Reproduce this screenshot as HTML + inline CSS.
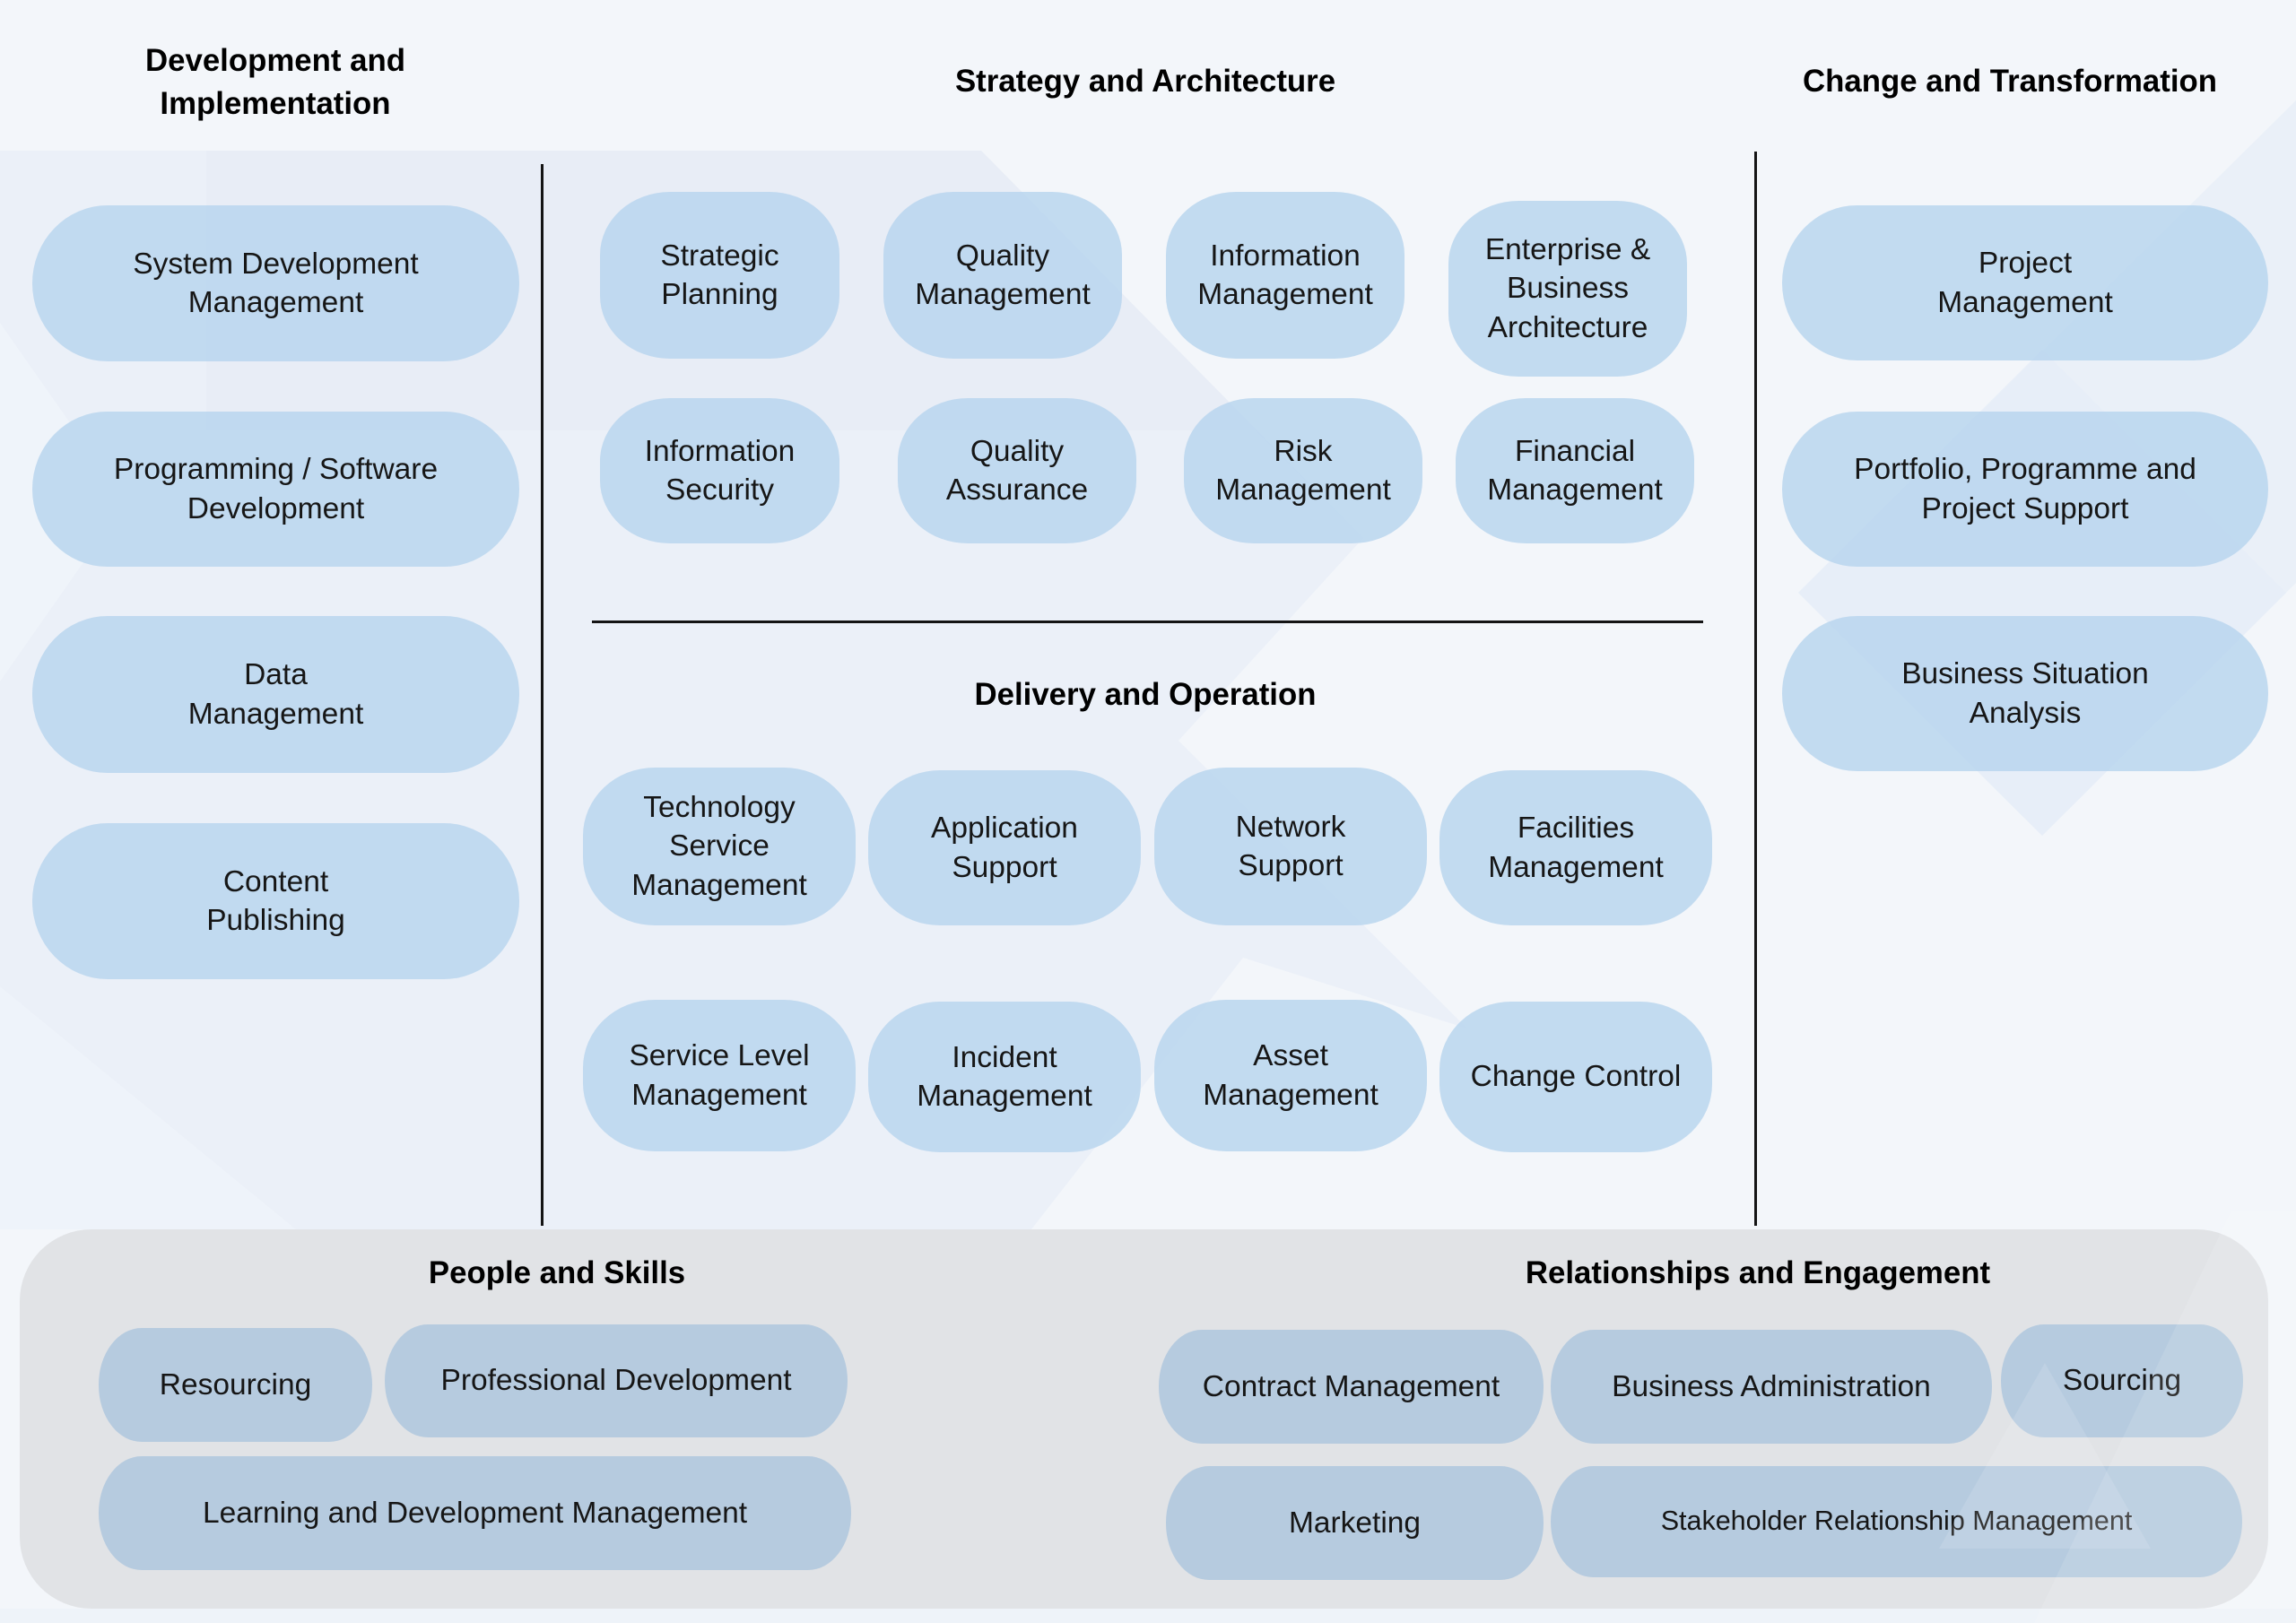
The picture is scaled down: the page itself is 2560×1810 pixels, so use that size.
<!DOCTYPE html>
<html><head><meta charset="utf-8">
<style>
html,body{margin:0;padding:0;}
body{width:2560px;height:1810px;position:relative;overflow:hidden;background:#f3f6fa;font-family:"Liberation Sans",Arial,sans-serif;}
.bg{position:absolute;left:0;top:0;width:2560px;height:1810px;}
.p{position:absolute;box-sizing:border-box;display:flex;align-items:center;justify-content:center;text-align:center;font-size:33.5px;line-height:43.5px;color:#161616;background:rgba(183,212,238,0.82);}
.w{border-radius:84px/87px;}
.s{border-radius:78px/70px;}
.d{border-radius:80px/76px;}
.b{border-radius:48px/63px;background:rgba(178,201,222,0.92);}
.h{position:absolute;width:900px;text-align:center;font-weight:bold;font-size:34.8px;line-height:48px;color:#000;}
.ln{position:absolute;background:#141414;}
.panel{position:absolute;left:22px;top:1371px;width:2507px;height:423px;border-radius:80px;background:#e1e3e6;}
.ov{position:absolute;left:0;top:0;width:2560px;height:1810px;pointer-events:none;}
</style></head>
<body>
<svg class="bg" width="2560" height="1810" viewBox="0 0 2560 1810">
  <rect x="0" y="0" width="2560" height="1810" fill="#f3f6fa"/>
  <polygon points="0,168 1094,168 1520,600 1314,826 1636,1147 1386,1068 1150,1371 0,1371" fill="#ebf0f8"/>
  <polygon points="230,168 1094,168 1520,600 1400,480 230,480" fill="#e5ebf4" opacity="0.55"/>
  <polygon points="0,360 140,560 0,760" fill="#f2f6fb" opacity="0.6"/>
  <polygon points="0,1100 330,1371 0,1371" fill="#f1f5fb" opacity="0.5"/>
  <polygon points="2560,112 2005,661 2277,932 2560,650" fill="#eaf0f8"/>
  <polygon points="2005,661 2277,390 2549,661 2277,932" fill="#e6eef8" opacity="0.8"/>
  <rect x="0" y="1794" width="2560" height="16" fill="#eef3f9"/>
</svg>

<div class="panel"></div>

<!-- Headings -->
<div class="h" style="left:-143px;top:44px;">Development and<br>Implementation</div>
<div class="h" style="left:827px;top:67px;">Strategy and Architecture</div>
<div class="h" style="left:1791px;top:67px;">Change and Transformation</div>
<div class="h" style="left:827px;top:751px;">Delivery and Operation</div>
<div class="h" style="left:171px;top:1396px;">People and Skills</div>
<div class="h" style="left:1510px;top:1396px;">Relationships and Engagement</div>

<!-- Lines -->
<div class="ln" style="left:603px;top:183px;width:2.5px;height:1184px;"></div>
<div class="ln" style="left:1956px;top:169px;width:2.5px;height:1198px;"></div>
<div class="ln" style="left:660px;top:692px;width:1239px;height:2.5px;"></div>

<!-- Left column -->
<div class="p w" style="left:36px;top:229px;width:543px;height:174px;">System Development<br>Management</div>
<div class="p w" style="left:36px;top:459px;width:543px;height:173px;">Programming / Software<br>Development</div>
<div class="p w" style="left:36px;top:687px;width:543px;height:175px;">Data<br>Management</div>
<div class="p w" style="left:36px;top:918px;width:543px;height:174px;">Content<br>Publishing</div>

<!-- Right column -->
<div class="p w" style="left:1987px;top:229px;width:542px;height:173px;">Project<br>Management</div>
<div class="p w" style="left:1987px;top:459px;width:542px;height:173px;">Portfolio, Programme and<br>Project Support</div>
<div class="p w" style="left:1987px;top:687px;width:542px;height:173px;">Business Situation<br>Analysis</div>

<!-- Strategy -->
<div class="p s" style="left:669px;top:214px;width:267px;height:186px;">Strategic<br>Planning</div>
<div class="p s" style="left:985px;top:214px;width:266px;height:186px;">Quality<br>Management</div>
<div class="p s" style="left:1300px;top:214px;width:266px;height:186px;">Information<br>Management</div>
<div class="p s" style="left:1615px;top:224px;width:266px;height:196px;">Enterprise &amp;<br>Business<br>Architecture</div>
<div class="p s" style="left:669px;top:444px;width:267px;height:162px;">Information<br>Security</div>
<div class="p s" style="left:1001px;top:444px;width:266px;height:162px;">Quality<br>Assurance</div>
<div class="p s" style="left:1320px;top:444px;width:266px;height:162px;">Risk<br>Management</div>
<div class="p s" style="left:1623px;top:444px;width:266px;height:162px;">Financial<br>Management</div>

<!-- Delivery -->
<div class="p d" style="left:650px;top:856px;width:304px;height:176px;">Technology<br>Service<br>Management</div>
<div class="p d" style="left:968px;top:859px;width:304px;height:173px;">Application<br>Support</div>
<div class="p d" style="left:1287px;top:856px;width:304px;height:176px;">Network<br>Support</div>
<div class="p d" style="left:1605px;top:859px;width:304px;height:173px;">Facilities<br>Management</div>
<div class="p d" style="left:650px;top:1115px;width:304px;height:169px;">Service Level<br>Management</div>
<div class="p d" style="left:968px;top:1117px;width:304px;height:168px;">Incident<br>Management</div>
<div class="p d" style="left:1287px;top:1115px;width:304px;height:169px;">Asset<br>Management</div>
<div class="p d" style="left:1605px;top:1117px;width:304px;height:168px;">Change Control</div>

<!-- Bottom left -->
<div class="p b" style="left:110px;top:1481px;width:305px;height:127px;">Resourcing</div>
<div class="p b" style="left:429px;top:1477px;width:516px;height:126px;">Professional Development</div>
<div class="p b" style="left:110px;top:1624px;width:839px;height:127px;">Learning and Development Management</div>

<!-- Bottom right -->
<div class="p b" style="left:1292px;top:1483px;width:429px;height:127px;">Contract Management</div>
<div class="p b" style="left:1729px;top:1483px;width:492px;height:127px;">Business Administration</div>
<div class="p b" style="left:2231px;top:1477px;width:270px;height:126px;">Sourcing</div>
<div class="p b" style="left:1300px;top:1635px;width:421px;height:127px;">Marketing</div>
<div class="p b" style="left:1729px;top:1635px;width:771px;height:124px;font-size:30.5px;">Stakeholder Relationship Management</div>

<svg class="ov" width="2560" height="1810" viewBox="0 0 2560 1810">
  <polygon points="2280,1520 2398,1727 2162,1727" fill="#ffffff" opacity="0.13"/>
  <polygon points="2488,1350 2560,1350 2560,1810 2268,1810" fill="#ffffff" opacity="0.12"/>
</svg>
</body></html>
